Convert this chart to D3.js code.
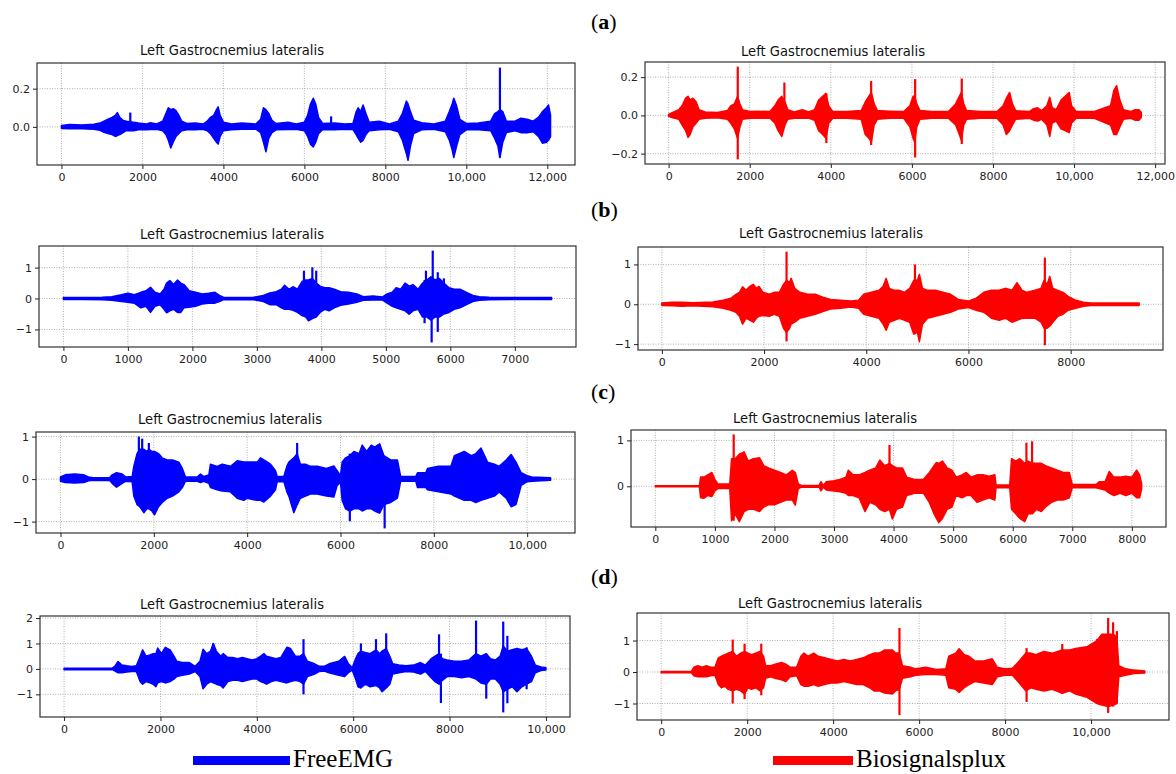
<!DOCTYPE html>
<html>
<head>
<meta charset="utf-8">
<script src="https://cdn.jsdelivr.net/npm/d3@7/dist/d3.min.js"></script>
<style>
body { margin: 0; background: #fff; }
</style>
</head>
<body>
<svg width="1176" height="774"></svg>
<script>
// EMG envelopes: [sample, upper, lower]
// spikes are the thin needles: [sample, top, bottom]

var envFreeA = [[0,.008,-.008],[200,.012,-.01],[500,.01,-.01],[800,.014,-.012],[950,.02,-.018],[1050,.03,-.028],[1150,.04,-.035],[1250,.05,-.04],[1330,.06,-.05],[1380,.075,-.045],[1440,.05,-.04],[1520,.035,-.03],[1600,.03,-.02],[1780,.025,-.02],[1900,.02,-.015],[2100,.015,-.015],[2200,.022,-.014],[2350,.015,-.012],[2500,.03,-.02],[2580,.07,-.04],[2640,.1,-.07],[2700,.09,-.11],[2760,.095,-.08],[2830,.085,-.05],[2900,.06,-.035],[2970,.03,-.02],[3100,.018,-.015],[3300,.02,-.015],[3500,.015,-.012],[3600,.03,-.02],[3680,.05,-.035],[3760,.06,-.06],[3830,.09,-.08],[3870,.105,-.09],[3920,.06,-.05],[4000,.025,-.02],[4200,.015,-.015],[4450,.02,-.012],[4800,.015,-.012],[4920,.04,-.03],[4990,.1,-.08],[5050,.09,-.13],[5120,.07,-.06],[5200,.035,-.03],[5300,.018,-.015],[5600,.025,-.014],[5800,.015,-.012],[6000,.025,-.02],[6080,.06,-.05],[6150,.12,-.09],[6220,.15,-.105],[6280,.12,-.08],[6350,.05,-.035],[6450,.018,-.015],[6750,.02,-.015],[7000,.015,-.012],[7200,.018,-.014],[7280,.08,-.04],[7330,.1,-.06],[7390,.08,-.08],[7450,.115,-.07],[7520,.07,-.04],[7600,.025,-.02],[7850,.03,-.015],[8100,.015,-.012],[8320,.03,-.025],[8420,.07,-.07],[8520,.135,-.14],[8560,.12,-.175],[8620,.08,-.1],[8700,.035,-.035],[8900,.022,-.015],[9200,.015,-.012],[9480,.03,-.025],[9580,.08,-.07],[9650,.12,-.12],[9690,.15,-.16],[9760,.11,-.1],[9840,.04,-.04],[10000,.018,-.015],[10300,.02,-.015],[10600,.03,-.02],[10700,.07,-.06],[10780,.08,-.1],[10830,.09,-.16],[10900,.08,-.08],[10990,.03,-.03],[11200,.03,-.02],[11350,.045,-.03],[11500,.04,-.03],[11650,.03,-.025],[11780,.05,-.05],[11880,.08,-.085],[11980,.1,-.08],[12030,.115,-.07],[12080,.06,-.05]];
var spikesFreeA = [[1700,.075,-.02],[6660,.055,-.015],[10830,.31,-.16]];

var envBioA = [[0,.005,-.005],[100,.015,-.012],[250,.03,-.02],[330,.05,-.05],[420,.09,-.08],[480,.1,-.115],[530,.08,-.1],[600,.09,-.06],[680,.07,-.04],[750,.03,-.02],[900,.018,-.015],[1200,.015,-.012],[1450,.025,-.02],[1530,.05,-.04],[1620,.06,-.07],[1700,.1,-.12],[1760,.06,-.06],[1820,.03,-.02],[2000,.02,-.015],[2200,.022,-.015],[2500,.02,-.015],[2620,.05,-.04],[2700,.08,-.08],[2790,.1,-.11],[2870,.07,-.05],[2940,.03,-.02],[3100,.018,-.015],[3300,.03,-.015],[3450,.018,-.014],[3600,.03,-.025],[3700,.08,-.08],[3800,.1,-.1],[3880,.115,-.12],[3950,.05,-.04],[4050,.02,-.015],[4400,.02,-.015],[4750,.025,-.02],[4850,.07,-.1],[4940,.1,-.12],[5000,.12,-.14],[5070,.06,-.05],[5150,.025,-.02],[5450,.022,-.015],[5800,.02,-.015],[5950,.05,-.06],[6030,.1,-.12],[6070,.1,-.14],[6120,.06,-.06],[6200,.025,-.02],[6500,.02,-.015],[6900,.02,-.015],[7080,.06,-.05],[7170,.1,-.1],[7220,.12,-.13],[7280,.06,-.05],[7350,.025,-.02],[7700,.02,-.015],[8100,.02,-.015],[8250,.05,-.05],[8330,.09,-.1],[8410,.12,-.08],[8480,.06,-.05],[8560,.025,-.02],[8900,.02,-.015],[9000,.035,-.025],[9100,.04,-.03],[9200,.025,-.02],[9330,.05,-.05],[9400,.095,-.11],[9460,.04,-.04],[9560,.03,-.03],[9680,.08,-.07],[9780,.1,-.08],[9880,.12,-.09],[9940,.05,-.04],[10050,.02,-.015],[10500,.02,-.015],[10900,.05,-.05],[10980,.13,-.1],[11050,.155,-.1],[11130,.08,-.06],[11220,.03,-.02],[11400,.02,-.015],[11500,.03,-.025],[11600,.03,-.025],[11660,.015,-.01]];
var spikesBioA = [[1705,.255,-.23],[2855,.172,-.02],[3890,.114,-.145],[4995,.18,-.155],[6080,.19,-.22],[7230,.193,-.15]];

var envFreeB = [[0,.03,-.03],[300,.035,-.03],[600,.04,-.04],[750,.06,-.06],[900,.12,-.1],[1000,.17,-.12],[1100,.12,-.15],[1200,.2,-.3],[1280,.25,-.25],[1350,.36,-.45],[1420,.2,-.25],[1500,.15,-.2],[1560,.3,-.35],[1600,.5,-.46],[1650,.58,-.4],[1710,.45,-.35],[1770,.6,-.45],[1820,.5,-.45],[1870,.45,-.3],[1950,.25,-.28],[2050,.2,-.25],[2150,.15,-.18],[2250,.17,-.15],[2350,.2,-.15],[2420,.1,-.1],[2480,.04,-.04],[2700,.035,-.03],[2950,.04,-.04],[3100,.1,-.1],[3200,.18,-.2],[3300,.22,-.2],[3380,.3,-.3],[3430,.43,-.35],[3500,.3,-.35],[3560,.38,-.38],[3630,.3,-.45],[3700,.55,-.55],[3760,.6,-.6],[3800,.6,-.72],[3860,.65,-.65],[3920,.5,-.6],[3980,.4,-.45],[4050,.35,-.35],[4120,.35,-.4],[4200,.3,-.3],[4300,.22,-.22],[4420,.2,-.18],[4550,.15,-.12],[4650,.06,-.06],[4800,.08,-.05],[4950,.05,-.05],[5020,.15,-.15],[5100,.2,-.25],[5160,.35,-.3],[5230,.3,-.35],[5300,.5,-.4],[5360,.4,-.51],[5420,.45,-.4],[5500,.3,-.35],[5570,.5,-.6],[5640,.6,-.6],[5700,.7,-.7],[5760,.6,-.6],[5830,.65,-.6],[5900,.5,-.5],[5980,.35,-.45],[6060,.3,-.35],[6150,.3,-.3],[6250,.2,-.2],[6350,.1,-.1],[6450,.06,-.06],[6600,.04,-.04],[7000,.03,-.03],[7570,.03,-.03]];
var spikesFreeB = [[3730,.9,-.3],[3860,1.01,-.5],[3920,.9,-.3],[5600,.6,-.8],[5622,.9,-.5],[5710,.7,-1.42],[5727,1.55,-.5],[5805,.85,-1.08],[5900,.65,-.4]];

var envBioB = [[0,.03,-.03],[200,.05,-.04],[400,.05,-.05],[600,.04,-.04],[1000,.06,-.06],[1200,.1,-.1],[1350,.15,-.15],[1450,.25,-.2],[1520,.3,-.3],[1580,.44,-.5],[1650,.35,-.35],[1720,.45,-.4],[1790,.5,-.45],[1850,.4,-.35],[1900,.45,-.3],[1980,.3,-.28],[2100,.25,-.3],[2200,.3,-.25],[2300,.3,-.3],[2380,.5,-.6],[2440,.6,-.7],[2500,.55,-.6],[2530,.65,-.5],[2600,.4,-.45],[2700,.3,-.35],[2850,.25,-.3],[3000,.25,-.25],[3150,.18,-.18],[3300,.12,-.12],[3500,.1,-.1],[3700,.08,-.07],[3850,.1,-.1],[3950,.25,-.25],[4100,.3,-.3],[4250,.35,-.35],[4330,.45,-.5],[4390,.65,-.65],[4450,.4,-.45],[4550,.35,-.4],[4650,.35,-.35],[4750,.3,-.4],[4850,.4,-.45],[4930,.6,-.75],[5000,.6,-.7],[5040,.75,-.94],[5100,.4,-.5],[5200,.35,-.35],[5350,.35,-.3],[5500,.3,-.25],[5650,.25,-.2],[5800,.12,-.12],[6000,.08,-.08],[6150,.15,-.15],[6300,.3,-.2],[6450,.35,-.35],[6600,.35,-.4],[6720,.4,-.35],[6850,.35,-.45],[6950,.54,-.4],[7050,.35,-.35],[7150,.3,-.35],[7300,.35,-.35],[7420,.4,-.45],[7480,.6,-.6],[7540,.5,-.6],[7590,.7,-.55],[7650,.4,-.45],[7750,.35,-.3],[7850,.3,-.25],[7950,.2,-.15],[8100,.1,-.1],[8250,.05,-.05],[8400,.03,-.03],[9340,.03,-.03]];
var spikesBioB = [[2440,1.32,-.93],[4953,1.0,-.75],[7495,1.17,-1.03]];

var envFreeC = [[0,.05,-.05],[100,.1,-.08],[300,.12,-.09],[500,.1,-.08],[600,.05,-.04],[700,.03,-.03],[1050,.03,-.03],[1107,.1,-.1],[1200,.15,-.19],[1321,.12,-.1],[1400,.05,-.05],[1536,.06,-.06],[1571,.3,-.4],[1640,.6,-.6],[1700,.7,-.65],[1786,.7,-.79],[1850,.65,-.7],[1893,.7,-.7],[1960,.65,-.75],[2014,.65,-.84],[2100,.6,-.65],[2179,.5,-.55],[2286,.45,-.45],[2400,.45,-.4],[2536,.4,-.3],[2610,.25,-.2],[2679,.05,-.05],[2929,.05,-.05],[3000,.12,-.08],[3071,.06,-.05],[3179,.1,-.1],[3214,.35,-.2],[3357,.3,-.25],[3464,.35,-.28],[3643,.3,-.3],[3786,.43,-.45],[3929,.4,-.5],[4000,.4,-.45],[4214,.4,-.5],[4286,.5,-.5],[4357,.45,-.54],[4500,.35,-.4],[4607,.2,-.25],[4643,.06,-.06],[4786,.06,-.06],[4850,.3,-.3],[4893,.4,-.4],[5000,.5,-.79],[5071,.6,-.6],[5140,.35,-.45],[5250,.35,-.4],[5355,.3,-.35],[5500,.3,-.35],[5700,.25,-.4],[5857,.31,-.42],[5928,.2,-.15],[6000,.08,-.08],[6036,.4,-.5],[6110,.5,-.7],[6200,.55,-.75],[6287,.65,-.7],[6400,.6,-.7],[6466,.8,-.75],[6560,.65,-.7],[6660,.8,-.7],[6730,.75,-.75],[6839,.83,-.8],[6930,.55,-.6],[7075,.45,-.55],[7219,.45,-.45],[7290,.06,-.05],[7613,.06,-.05],[7650,.15,-.2],[7828,.15,-.2],[7864,.25,-.25],[8100,.3,-.3],[8366,.3,-.35],[8440,.55,-.4],[8652,.65,-.5],[8800,.55,-.5],[8900,.6,-.55],[9011,.73,-.5],[9150,.4,-.45],[9297,.35,-.4],[9400,.3,-.3],[9550,.45,-.45],[9656,.58,-.65],[9760,.4,-.6],[9871,.15,-.15],[10000,.08,-.06],[10100,.05,-.05],[10500,.03,-.03]];
var spikesFreeC = [[1679,1.0,-.5],[1750,.95,-.5],[1893,.85,-.6],[5071,.85,-.6],[6200,.6,-.99],[6946,.5,-1.16]];

var envBioC = [[0,.01,-.01],[740,.012,-.01],[760,.2,-.25],[820,.2,-.26],[880,.25,-.2],[950,.3,-.22],[1000,.15,-.1],[1050,.05,-.05],[1250,.05,-.05],[1280,.6,-.75],[1340,.6,-.6],[1410,.7,-.77],[1490,.75,-.55],[1560,.55,-.5],[1650,.6,-.5],[1750,.62,-.55],[1820,.45,-.45],[1900,.4,-.4],[2000,.35,-.4],[2100,.3,-.35],[2200,.25,-.3],[2300,.35,-.3],[2350,.3,-.41],[2400,.05,-.05],[2450,.02,-.02],[2750,.02,-.02],[2780,.1,-.1],[2820,.02,-.02],[2870,.1,-.08],[3000,.12,-.1],[3100,.15,-.12],[3200,.2,-.15],[3240,.35,-.2],[3320,.25,-.2],[3420,.25,-.25],[3520,.3,-.55],[3600,.35,-.35],[3700,.4,-.4],[3770,.57,-.5],[3850,.45,-.55],[3930,.5,-.5],[3980,.45,-.71],[4050,.4,-.5],[4150,.4,-.45],[4220,.2,-.2],[4350,.15,-.15],[4500,.15,-.15],[4600,.3,-.35],[4680,.45,-.6],[4720,.52,-.7],[4760,.5,-.79],[4820,.55,-.7],[4900,.4,-.5],[4980,.35,-.45],[5050,.2,-.2],[5150,.25,-.25],[5220,.3,-.2],[5300,.2,-.2],[5400,.25,-.35],[5500,.25,-.3],[5600,.22,-.25],[5700,.25,-.3],[5720,.03,-.03],[5950,.03,-.03],[5980,.6,-.5],[6050,.55,-.6],[6120,.6,-.7],[6200,.5,-.77],[6260,.55,-.6],[6330,.5,-.6],[6400,.5,-.5],[6480,.5,-.55],[6550,.45,-.45],[6650,.4,-.35],[6750,.35,-.3],[6850,.3,-.3],[6950,.3,-.25],[7000,.04,-.03],[7400,.04,-.03],[7450,.1,-.05],[7550,.1,-.08],[7620,.32,-.15],[7700,.2,-.2],[7800,.2,-.15],[7900,.22,-.2],[8000,.2,-.15],[8080,.35,-.25],[8130,.25,-.25],[8165,.05,-.05]];
var spikesBioC = [[1316,1.13,-.75],[3931,.9,-.5],[6230,.95,-.6],[6325,.98,-.6]];

var envFreeD = [[0,.03,-.03],[1000,.03,-.03],[1050,.1,-.08],[1120,.29,-.15],[1200,.15,-.15],[1300,.12,-.12],[1400,.1,-.1],[1500,.12,-.1],[1580,.5,-.5],[1630,.75,-.6],[1700,.5,-.5],[1780,.55,-.55],[1850,.6,-.6],[1905,.6,-.7],[1944,.82,-.55],[2020,.6,-.5],[2100,.85,-.55],[2200,.75,-.5],[2280,.5,-.4],[2340,.3,-.3],[2450,.25,-.25],[2600,.25,-.2],[2720,.1,-.1],[2820,.3,-.3],[2884,.77,-.78],[2960,.6,-.6],[3040,.7,-.5],[3096,1.0,-.55],[3160,.7,-.6],[3250,.5,-.65],[3300,.6,-.75],[3400,.45,-.5],[3500,.45,-.45],[3600,.4,-.45],[3700,.45,-.5],[3800,.4,-.45],[3900,.35,-.4],[4000,.4,-.4],[4080,.5,-.5],[4150,.6,-.55],[4200,.5,-.6],[4300,.45,-.5],[4400,.4,-.45],[4500,.45,-.5],[4624,.85,-.55],[4700,.8,-.5],[4800,.5,-.45],[4900,.5,-.5],[4969,.6,-.6],[5050,.3,-.3],[5200,.2,-.2],[5300,.1,-.1],[5400,.1,-.08],[5500,.2,-.15],[5600,.25,-.2],[5700,.3,-.25],[5823,.49,-.3],[5900,.2,-.15],[5980,.05,-.05],[6050,.4,-.4],[6100,.6,-.7],[6160,.7,-.75],[6250,.65,-.6],[6350,.6,-.7],[6473,.75,-.65],[6550,.6,-.75],[6600,.7,-.9],[6685,.8,-.75],[6760,.5,-.6],[6820,.2,-.2],[6950,.15,-.15],[7100,.12,-.1],[7250,.15,-.12],[7400,.25,-.2],[7500,.15,-.1],[7620,.4,-.35],[7700,.5,-.5],[7782,.6,-.6],[7850,.4,-.45],[7950,.35,-.3],[8100,.3,-.3],[8250,.3,-.35],[8400,.35,-.3],[8550,.6,-.4],[8650,.5,-.55],[8762,.6,-.6],[8850,.4,-.4],[8950,.35,-.4],[9050,.5,-.6],[9114,.9,-.9],[9200,.7,-.8],[9300,.75,-.7],[9400,.8,-.9],[9500,.75,-.7],[9600,.8,-.6],[9700,.5,-.5],[9780,.15,-.15],[9900,.08,-.06],[10000,.05,-.04]];
var spikesFreeD = [[3096,1.0,-.5],[4969,1.17,-1.0],[6160,1.0,-.75],[6473,1.17,-.6],[6685,1.4,-.75],[7782,1.36,-.6],[7821,.6,-1.34],[8550,1.9,-.4],[8762,.6,-1.17],[9114,1.86,-1.71],[9200,1.3,-1.35],[9600,.85,-.8]];

var envBioD = [[0,.02,-.02],[700,.02,-.02],[760,.15,-.12],[850,.2,-.15],[950,.15,-.15],[1050,.2,-.15],[1150,.15,-.12],[1250,.15,-.1],[1330,.45,-.4],[1400,.5,-.5],[1480,.55,-.45],[1560,.6,-.55],[1664,.65,-.6],[1750,.5,-.55],[1850,.6,-.6],[1940,.65,-.7],[2020,.6,-.5],[2100,.55,-.55],[2200,.6,-.5],[2300,.65,-.6],[2380,.5,-.5],[2430,.2,-.2],[2550,.2,-.15],[2650,.25,-.2],[2800,.3,-.25],[2900,.25,-.3],[3000,.15,-.15],[3150,.15,-.12],[3250,.5,-.4],[3320,.6,-.45],[3420,.5,-.45],[3550,.6,-.4],[3650,.5,-.45],[3800,.45,-.4],[3950,.4,-.35],[4100,.35,-.35],[4250,.4,-.3],[4400,.35,-.35],[4550,.4,-.4],[4700,.45,-.4],[4850,.55,-.5],[4950,.6,-.6],[5070,.6,-.6],[5200,.7,-.67],[5380,.7,-.7],[5450,.6,-.6],[5540,.6,-.55],[5613,.2,-.2],[5800,.15,-.15],[5923,.1,-.1],[6155,.15,-.08],[6400,.08,-.08],[6620,.1,-.1],[6690,.5,-.5],[6850,.6,-.55],[6930,.74,-.65],[7050,.55,-.5],[7160,.5,-.4],[7300,.35,-.3],[7500,.35,-.35],[7700,.42,-.4],[7820,.15,-.15],[8000,.1,-.1],[8170,.12,-.1],[8300,.3,-.3],[8480,.6,-.6],[8600,.6,-.5],[8720,.55,-.55],[8900,.65,-.6],[9100,.6,-.55],[9330,.7,-.68],[9500,.7,-.6],[9640,.75,-.7],[9900,.8,-.8],[10140,1.0,-1.0],[10250,1.2,-1.05],[10400,1.2,-1.1],[10520,1.2,-1.05],[10600,1.1,-1.0],[10645,.2,-.15],[10800,.1,-.1],[11000,.06,-.05],[11250,.03,-.03]];
var spikesBioD = [[1664,1.03,-1.0],[1940,.9,-.86],[2328,.9,-.74],[5543,1.4,-1.37],[8500,.76,-.95],[9330,.89,-.68],[10140,1.05,-1.0],[10397,1.72,-1.3],[10512,1.58,-1.1],[10600,1.3,-1.0]];

// tick values
var xTicks12k = [0,2000,4000,6000,8000,10000,12000];
var xTicks7k = [0,1000,2000,3000,4000,5000,6000,7000];
var xTicks8k = [0,2000,4000,6000,8000];
var xTicks8kFine = [0,1000,2000,3000,4000,5000,6000,7000,8000];
var xTicks10k = [0,2000,4000,6000,8000,10000];
var yTicksFreeA = [0,0.2];
var yTicksBioA = [-0.2,0,0.2];
var yTicksOne = [-1,0,1];
var yTicksBioC = [0,1];
var yTicksFreeD = [-1,0,1,2];

var title = "Left Gastrocnemius lateralis";
var rowLetters = ["a","b","c","d"];
var legendNames = ["FreeEMG","Biosignalsplux"];

var BLUE = "#0000ff", RED = "#ff0000";

// box = [left, right, top, bottom]
var panels = [
  {env: envFreeA, spikes: spikesFreeA, color: BLUE, box: [37,575,63,165], xt: xTicks12k, yt: yTicksFreeA, dec: 1, tx: 232, ty: 50},
  {env: envBioA, spikes: spikesBioA, color: RED, box: [645,1165,62,164], xt: xTicks12k, yt: yTicksBioA, dec: 1, tx: 833, ty: 51},
  {env: envFreeB, spikes: spikesFreeB, color: BLUE, box: [39,576,246,347], xt: xTicks7k, yt: yTicksOne, dec: 0, tx: 232, ty: 234},
  {env: envBioB, spikes: spikesBioB, color: RED, box: [638,1163,247,350], xt: xTicks8k, yt: yTicksOne, dec: 0, tx: 831, ty: 233},
  {env: envFreeC, spikes: spikesFreeC, color: BLUE, box: [36,575,432,533], xt: xTicks10k, yt: yTicksOne, dec: 0, tx: 230, ty: 419},
  {env: envBioC, spikes: spikesBioC, color: RED, box: [631,1166,430,527], xt: xTicks8kFine, yt: yTicksBioC, dec: 0, tx: 825, ty: 418},
  {env: envFreeD, spikes: spikesFreeD, color: BLUE, box: [40,570,616,717], xt: xTicks10k, yt: yTicksFreeD, dec: 0, tx: 232, ty: 604},
  {env: envBioD, spikes: spikesBioD, color: RED, box: [637,1169,613,720], xt: xTicks10k, yt: yTicksOne, dec: 0, tx: 830, ty: 603}
];

var svg = d3.select('svg');
svg.append('rect').attr('width', 1176).attr('height', 774).attr('fill', '#fff');

panels.forEach(drawPanel);

function drawPanel(p) {
    var b = p.box;
    var n = p.env[p.env.length - 1][0];
    // matplotlib style 5% margins
    var x = d3.scaleLinear().domain([-0.05 * n, 1.05 * n]).range([b[0], b[1]]);
    var all = p.env.concat(p.spikes);
    var top = d3.max(all, function(d) { return d[1]; });
    var bot = d3.min(all, function(d) { return d[2]; });
    var pad = (top - bot) * 0.05;
    var y = d3.scaleLinear().domain([bot - pad, top + pad]).range([b[3], b[2]]);

    var g = svg.append('g');

    // dotted grid
    g.selectAll('.gx').data(p.xt).enter().append('line')
        .attr('x1', function(d) { return x(d); })
        .attr('x2', function(d) { return x(d); })
        .attr('y1', b[2]).attr('y2', b[3])
        .attr('stroke', '#9a9a9a').attr('stroke-width', 0.8)
        .attr('stroke-dasharray', '1,1.5');
    g.selectAll('.gy').data(p.yt).enter().append('line')
        .attr('x1', b[0]).attr('x2', b[1])
        .attr('y1', function(d) { return y(d); })
        .attr('y2', function(d) { return y(d); })
        .attr('stroke', '#9a9a9a').attr('stroke-width', 0.8)
        .attr('stroke-dasharray', '1,1.5');

    // signal envelope
    var area = d3.area()
        .x(function(d) { return x(d[0]); })
        .y0(function(d) { return y(d[2]); })
        .y1(function(d) { return y(d[1]); });
    g.append('path').datum(p.env)
        .attr('d', area)
        .attr('fill', p.color)
        .attr('stroke', p.color)
        .attr('stroke-width', 1.5)
        .attr('stroke-linejoin', 'round');

    // needles
    var line = d3.line();
    g.selectAll('.spike').data(p.spikes).enter().append('path')
        .attr('d', function(d) {
            return line([[x(d[0]), y(d[2])], [x(d[0]), y(d[1])]]);
        })
        .attr('stroke', p.color)
        .attr('stroke-width', 2.2)
        .attr('fill', 'none');

    // frame
    g.append('rect')
        .attr('x', b[0]).attr('y', b[2])
        .attr('width', b[1] - b[0]).attr('height', b[3] - b[2])
        .attr('fill', 'none').attr('stroke', '#333').attr('stroke-width', 1.2);

    // axes
    var xf = function(v) { return v >= 10000 ? d3.format(',')(v) : d3.format('d')(v); };
    var yf = p.dec ? d3.format('.1f') : d3.format('d');
    var gx = g.append('g')
        .attr('transform', 'translate(0,' + b[3] + ')')
        .call(d3.axisBottom(x).tickValues(p.xt).tickSize(4).tickPadding(4).tickFormat(xf));
    var gy = g.append('g')
        .attr('transform', 'translate(' + b[0] + ',0)')
        .call(d3.axisLeft(y).tickValues(p.yt).tickSize(4).tickPadding(3).tickFormat(yf));
    [gx, gy].forEach(function(a) {
        a.select('.domain').remove();
        a.attr('font-size', 11).attr('font-family', 'DejaVu Sans, sans-serif').attr('color', '#222');
    });

    // title
    g.append('text')
        .attr('x', p.tx).attr('y', p.ty + 5)
        .attr('text-anchor', 'middle')
        .attr('font-family', 'DejaVu Sans, sans-serif')
        .attr('font-size', 13.5)
        .attr('fill', '#111')
        .attr('textLength', 184)
        .attr('lengthAdjust', 'spacingAndGlyphs')
        .text(title);
}

// row letters (a)-(d)
var letterY = [22, 210, 392, 577];
rowLetters.forEach(function(l, i) {
    var t = svg.append('text')
        .attr('x', 591).attr('y', letterY[i] + 7)
        .attr('font-family', 'Liberation Serif, serif')
        .attr('font-size', 22)
        .attr('fill', '#000');
    t.append('tspan').text('(');
    t.append('tspan').attr('font-weight', 'bold').text(l);
    t.append('tspan').text(')');
});

// legend
var legend = [
    {name: legendNames[0], color: BLUE, x: 193, w: 97},
    {name: legendNames[1], color: RED, x: 773, w: 80}
];
legend.forEach(function(d) {
    svg.append('rect')
        .attr('x', d.x).attr('y', 756)
        .attr('width', d.w).attr('height', 9)
        .attr('fill', d.color);
    svg.append('text')
        .attr('x', d.x + d.w + 3).attr('y', 767)
        .attr('font-family', 'Liberation Serif, serif')
        .attr('font-size', 25)
        .attr('fill', '#000')
        .text(d.name);
});
</script>
</body>
</html>
